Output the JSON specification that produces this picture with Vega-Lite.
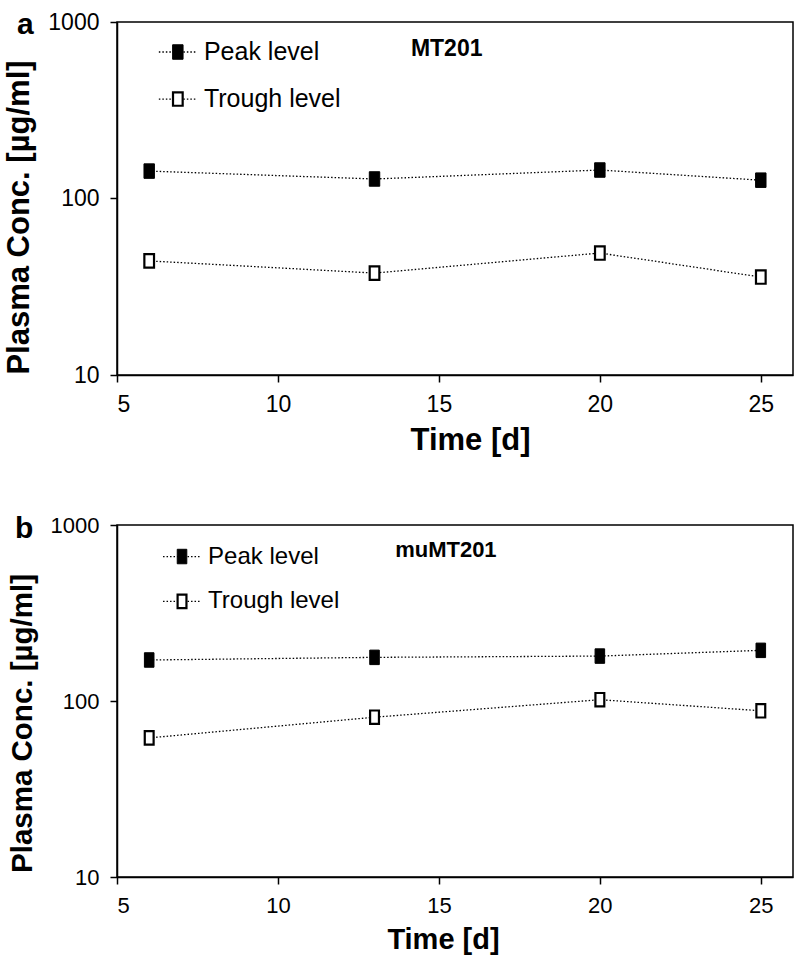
{
  "$schema": "https://vega.github.io/schema/vega-lite/v6.json",
  "background": "white",
  "padding": {"left": 3, "top": 9, "right": 2, "bottom": 2},
  "spacing": 57,
  "config": {
    "view": {"stroke": "black", "strokeWidth": 1.5},
    "axis": {"domainColor": "black", "domainWidth": 1.5, "tickColor": "black", "tickWidth": 1.5, "tickSize": 7, "labelColor": "black", "titleColor": "black", "labelFont": "Liberation Sans", "titleFont": "Liberation Sans", "titleFontWeight": "bold", "grid": false},
    "text": {"font": "Liberation Sans", "color": "black"}
  },
  "datasets": {
    "obs": [
      {"panel": "a", "level": "Peak level", "day": 6, "conc": 143},
      {"panel": "a", "level": "Peak level", "day": 13, "conc": 129},
      {"panel": "a", "level": "Peak level", "day": 20, "conc": 145},
      {"panel": "a", "level": "Peak level", "day": 25, "conc": 127},
      {"panel": "a", "level": "Trough level", "day": 6, "conc": 44.3},
      {"panel": "a", "level": "Trough level", "day": 13, "conc": 37.8},
      {"panel": "a", "level": "Trough level", "day": 20, "conc": 49.1},
      {"panel": "a", "level": "Trough level", "day": 25, "conc": 35.9},
      {"panel": "b", "level": "Peak level", "day": 6, "conc": 171},
      {"panel": "b", "level": "Peak level", "day": 13, "conc": 177},
      {"panel": "b", "level": "Peak level", "day": 20, "conc": 180},
      {"panel": "b", "level": "Peak level", "day": 25, "conc": 194},
      {"panel": "b", "level": "Trough level", "day": 6, "conc": 61.7},
      {"panel": "b", "level": "Trough level", "day": 13, "conc": 80.9},
      {"panel": "b", "level": "Trough level", "day": 20, "conc": 101.7},
      {"panel": "b", "level": "Trough level", "day": 25, "conc": 88}
    ],
    "ann": [
      {"panel": "a", "kind": "stub", "level": "Peak level", "day": 6.3, "day2": 7.45, "conc": 676},
      {"panel": "a", "kind": "stub", "level": "Trough level", "day": 6.3, "day2": 7.45, "conc": 366},
      {"panel": "a", "kind": "marker", "level": "Peak level", "day": 6.89, "conc": 676},
      {"panel": "a", "kind": "marker", "level": "Trough level", "day": 6.89, "conc": 366},
      {"panel": "a", "kind": "label", "label": "Peak level", "day": 7.7, "conc": 676},
      {"panel": "a", "kind": "label", "label": "Trough level", "day": 7.7, "conc": 366},
      {"panel": "a", "kind": "tag", "label": "MT201", "day": 14.13, "conc": 703},
      {"panel": "a", "kind": "letter", "label": "a", "day": 1.894, "conc": 855},
      {"panel": "b", "kind": "stub", "level": "Peak level", "day": 6.43, "day2": 7.61, "conc": 662},
      {"panel": "b", "kind": "stub", "level": "Trough level", "day": 6.43, "day2": 7.61, "conc": 368},
      {"panel": "b", "kind": "marker", "level": "Peak level", "day": 7.02, "conc": 662},
      {"panel": "b", "kind": "marker", "level": "Trough level", "day": 7.02, "conc": 368},
      {"panel": "b", "kind": "label", "label": "Peak level", "day": 7.83, "conc": 662},
      {"panel": "b", "kind": "label", "label": "Trough level", "day": 7.83, "conc": 368},
      {"panel": "b", "kind": "tag", "label": "muMT201", "day": 13.64, "conc": 718},
      {"panel": "b", "kind": "letter", "label": "b", "day": 1.83, "conc": 841}
    ]
  },
  "vconcat": [
    {
      "width": 676,
      "height": 353,
      "encoding": {
        "x": {"field": "day", "type": "quantitative", "scale": {"domain": [5, 26], "nice": false, "zero": false}, "axis": {"values": [5, 10, 15, 20, 25], "title": "Time [d]", "labelFontSize": 23, "titleFontSize": 31, "labelPadding": 11, "titlePadding": 9, "titleX": 353}},
        "y": {"field": "conc", "type": "quantitative", "scale": {"type": "log", "domain": [10, 1000], "nice": false}, "axis": {"values": [10, 100, 1000], "format": "d", "title": "Plasma Conc. [µg/ml]", "labelFontSize": 23, "titleFontSize": 31, "labelPadding": 11, "titlePadding": 12, "titleY": 195}}
      },
      "layer": [
        {"data": {"name": "obs"}, "transform": [{"filter": "datum.panel === 'a'"}], "mark": {"type": "line", "color": "black", "strokeWidth": 1.3, "strokeDash": [1.5, 2]}, "encoding": {"detail": {"field": "level", "type": "nominal"}}},
        {"data": {"name": "ann"}, "transform": [{"filter": "datum.panel === 'a' && datum.kind === 'stub'"}], "mark": {"type": "rule", "color": "black", "strokeWidth": 1.3, "strokeDash": [1.5, 2]}, "encoding": {"x2": {"field": "day2"}}},
        {"data": {"name": "obs"}, "transform": [{"filter": "datum.panel === 'a'"}], "mark": {"type": "point", "shape": "M-0.72,-1H0.72V1H-0.72Z", "filled": true, "stroke": "black", "opacity": 1},
          "encoding": {
            "fill": {"field": "level", "type": "nominal", "scale": {"domain": ["Peak level", "Trough level"], "range": ["black", "white"]}, "legend": null},
            "size": {"field": "level", "type": "nominal", "scale": {"domain": ["Peak level", "Trough level"], "range": [210, 180]}, "legend": null},
            "strokeWidth": {"field": "level", "type": "nominal", "scale": {"domain": ["Peak level", "Trough level"], "range": [1, 2.2]}, "legend": null}
          }},
        {"data": {"name": "ann"}, "transform": [{"filter": "datum.panel === 'a' && datum.kind === 'marker'"}], "mark": {"type": "point", "shape": "M-0.72,-1H0.72V1H-0.72Z", "filled": true, "stroke": "black", "opacity": 1},
          "encoding": {
            "fill": {"field": "level", "type": "nominal", "scale": {"domain": ["Peak level", "Trough level"], "range": ["black", "white"]}, "legend": null},
            "size": {"field": "level", "type": "nominal", "scale": {"domain": ["Peak level", "Trough level"], "range": [210, 180]}, "legend": null},
            "strokeWidth": {"field": "level", "type": "nominal", "scale": {"domain": ["Peak level", "Trough level"], "range": [1, 2.2]}, "legend": null}
          }},
        {"data": {"name": "ann"}, "transform": [{"filter": "datum.panel === 'a' && datum.kind === 'label'"}], "mark": {"type": "text", "align": "left", "baseline": "middle", "fontSize": 25}, "encoding": {"text": {"field": "label"}}},
        {"data": {"name": "ann"}, "transform": [{"filter": "datum.panel === 'a' && datum.kind === 'tag'"}], "mark": {"type": "text", "align": "left", "baseline": "middle", "fontSize": 23, "fontWeight": "bold"}, "encoding": {"text": {"field": "label"}}},
        {"data": {"name": "ann"}, "transform": [{"filter": "datum.panel === 'a' && datum.kind === 'letter'"}], "mark": {"type": "text", "align": "left", "baseline": "alphabetic", "fontSize": 30, "fontWeight": "bold"}, "encoding": {"text": {"field": "label"}}}
      ]
    },
    {
      "width": 676,
      "height": 352,
      "encoding": {
        "x": {"field": "day", "type": "quantitative", "scale": {"domain": [5, 26], "nice": false, "zero": false}, "axis": {"values": [5, 10, 15, 20, 25], "title": "Time [d]", "labelFontSize": 22, "titleFontSize": 29, "labelPadding": 11, "titlePadding": 9, "titleX": 326}},
        "y": {"field": "conc", "type": "quantitative", "scale": {"type": "log", "domain": [10, 1000], "nice": false}, "axis": {"values": [10, 100, 1000], "format": "d", "title": "Plasma Conc. [µg/ml]", "labelFontSize": 22, "titleFontSize": 29.5, "labelPadding": 11, "titlePadding": 13, "titleY": 198}}
      },
      "layer": [
        {"data": {"name": "obs"}, "transform": [{"filter": "datum.panel === 'b'"}], "mark": {"type": "line", "color": "black", "strokeWidth": 1.3, "strokeDash": [1.5, 2]}, "encoding": {"detail": {"field": "level", "type": "nominal"}}},
        {"data": {"name": "ann"}, "transform": [{"filter": "datum.panel === 'b' && datum.kind === 'stub'"}], "mark": {"type": "rule", "color": "black", "strokeWidth": 1.3, "strokeDash": [1.5, 2]}, "encoding": {"x2": {"field": "day2"}}},
        {"data": {"name": "obs"}, "transform": [{"filter": "datum.panel === 'b'"}], "mark": {"type": "point", "shape": "M-0.66,-1H0.66V1H-0.66Z", "filled": true, "stroke": "black", "opacity": 1},
          "encoding": {
            "fill": {"field": "level", "type": "nominal", "scale": {"domain": ["Peak level", "Trough level"], "range": ["black", "white"]}, "legend": null},
            "size": {"field": "level", "type": "nominal", "scale": {"domain": ["Peak level", "Trough level"], "range": [210, 180]}, "legend": null},
            "strokeWidth": {"field": "level", "type": "nominal", "scale": {"domain": ["Peak level", "Trough level"], "range": [1, 2.2]}, "legend": null}
          }},
        {"data": {"name": "ann"}, "transform": [{"filter": "datum.panel === 'b' && datum.kind === 'marker'"}], "mark": {"type": "point", "shape": "M-0.66,-1H0.66V1H-0.66Z", "filled": true, "stroke": "black", "opacity": 1},
          "encoding": {
            "fill": {"field": "level", "type": "nominal", "scale": {"domain": ["Peak level", "Trough level"], "range": ["black", "white"]}, "legend": null},
            "size": {"field": "level", "type": "nominal", "scale": {"domain": ["Peak level", "Trough level"], "range": [210, 180]}, "legend": null},
            "strokeWidth": {"field": "level", "type": "nominal", "scale": {"domain": ["Peak level", "Trough level"], "range": [1, 2.2]}, "legend": null}
          }},
        {"data": {"name": "ann"}, "transform": [{"filter": "datum.panel === 'b' && datum.kind === 'label'"}], "mark": {"type": "text", "align": "left", "baseline": "middle", "fontSize": 24}, "encoding": {"text": {"field": "label"}}},
        {"data": {"name": "ann"}, "transform": [{"filter": "datum.panel === 'b' && datum.kind === 'tag'"}], "mark": {"type": "text", "align": "left", "baseline": "middle", "fontSize": 22, "fontWeight": "bold"}, "encoding": {"text": {"field": "label"}}},
        {"data": {"name": "ann"}, "transform": [{"filter": "datum.panel === 'b' && datum.kind === 'letter'"}], "mark": {"type": "text", "align": "left", "baseline": "alphabetic", "fontSize": 30, "fontWeight": "bold"}, "encoding": {"text": {"field": "label"}}}
      ]
    }
  ]
}
